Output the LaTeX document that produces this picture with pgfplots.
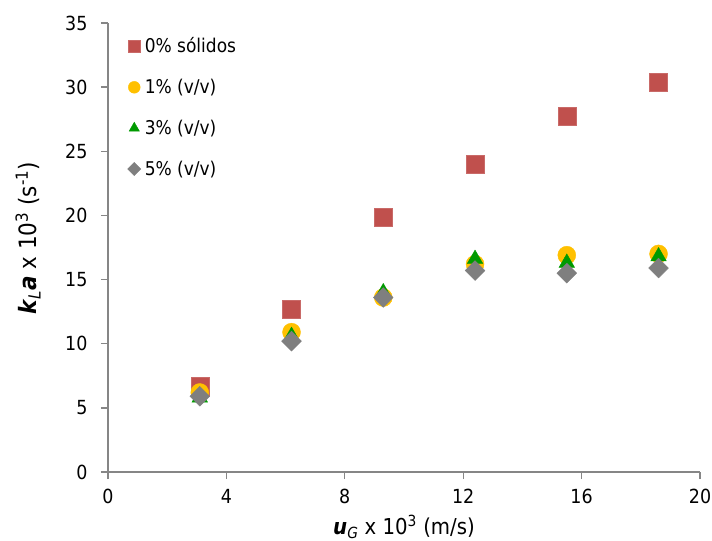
\documentclass[border=0pt]{standalone}
\usepackage{pgfplots}
\pgfplotsset{compat=1.18}
\usepackage{fontspec}
\setmainfont{DejaVu Sans Condensed}
\usetikzlibrary{calc}

\definecolor{cRed}{HTML}{C0504D}
\definecolor{cYel}{HTML}{FFC000}
\definecolor{cGrn}{HTML}{009A00}
\definecolor{cGry}{HTML}{7F7F7F}
\definecolor{axgray}{HTML}{868686}

\begin{document}
\begin{tikzpicture}
\begin{axis}[
    name=ax,
    scale only axis,
    width=592bp, height=449bp,
    xmin=0, xmax=20, ymin=0, ymax=35,
    xtick={0,4,...,20}, ytick={0,5,...,35},
    axis lines*=left,
    axis line style={axgray, line width=1.3pt, -},
    tick style={axgray, line width=1.3pt},
    tick align=outside,
    major tick length=7bp,
    /pgf/number format/assume math mode=true,
    tick label style={font=\fontsize{19.5}{23}\selectfont},
    xticklabel style={yshift=-7bp},
    yticklabel style={xshift=-10bp},
    xlabel={\textbf{\textit{u}}\textsubscript{\textit{G}} x 10\textsuperscript{3} (m/s)},
    ylabel={\textbf{\textit{k}}\textsubscript{\textit{L}}\textbf{\textit{a}} x 10\textsuperscript{3} (s\textsuperscript{-1})},
    xlabel style={font=\fontsize{22}{26}\selectfont, at={(0.5,0)}, anchor=base, yshift=-62bp},
    ylabel style={font=\fontsize{24}{28}\selectfont, at={(0,0.52)}, anchor=center, rotate=0, yshift=80bp},
    legend style={at={(0.033,0.972)}, anchor=north west, draw=none, fill=none,
        row sep=21bp, font=\fontsize{19}{22}\selectfont, inner sep=0pt,
        /tikz/every odd column/.append style={column sep=2bp}},
    legend cell align=left,
    legend image code/.code={\draw[#1, every mark/.append style={scale=0.66}] plot coordinates {(0.3cm,0cm)};},
    clip=false,
]
\addplot[only marks, mark=square*, mark size=9bp, color=cRed, mark options={fill=cRed, draw=cRed!85!white}]
  coordinates {(3.1,6.7) (6.2,12.7) (9.3,19.9) (12.4,24.0) (15.5,27.7) (18.6,30.4)};
\addplot[only marks, mark=*, mark size=9bp, color=cYel, mark options={fill=cYel, draw=cYel}]
  coordinates {(3.1,6.2) (6.2,10.9) (9.3,13.6) (12.4,16.2) (15.5,16.9) (18.6,17.0)};
\addplot[only marks, mark=triangle*, mark size=9bp, color=cGrn, mark options={fill=cGrn, draw=cGrn}]
  coordinates {(3.1,5.8) (6.2,10.6) (9.3,14.0) (12.4,16.6) (15.5,16.3) (18.6,16.8)};
\addplot[only marks, mark=square*, mark size=7bp, color=cGry, mark options={rotate=45, fill=cGry, draw=cGry}]
  coordinates {(3.1,5.9) (6.2,10.2) (9.3,13.6) (12.4,15.7) (15.5,15.5) (18.6,15.9)};
\legend{0\% sólidos, 1\% (v/v), 3\% (v/v), 5\% (v/v)}
\end{axis}
\pgfresetboundingbox
\path ($(ax.south west)+(-108bp,-69bp)$) rectangle ($(ax.north east)+(12bp,23bp)$);
\end{tikzpicture}
\end{document}
